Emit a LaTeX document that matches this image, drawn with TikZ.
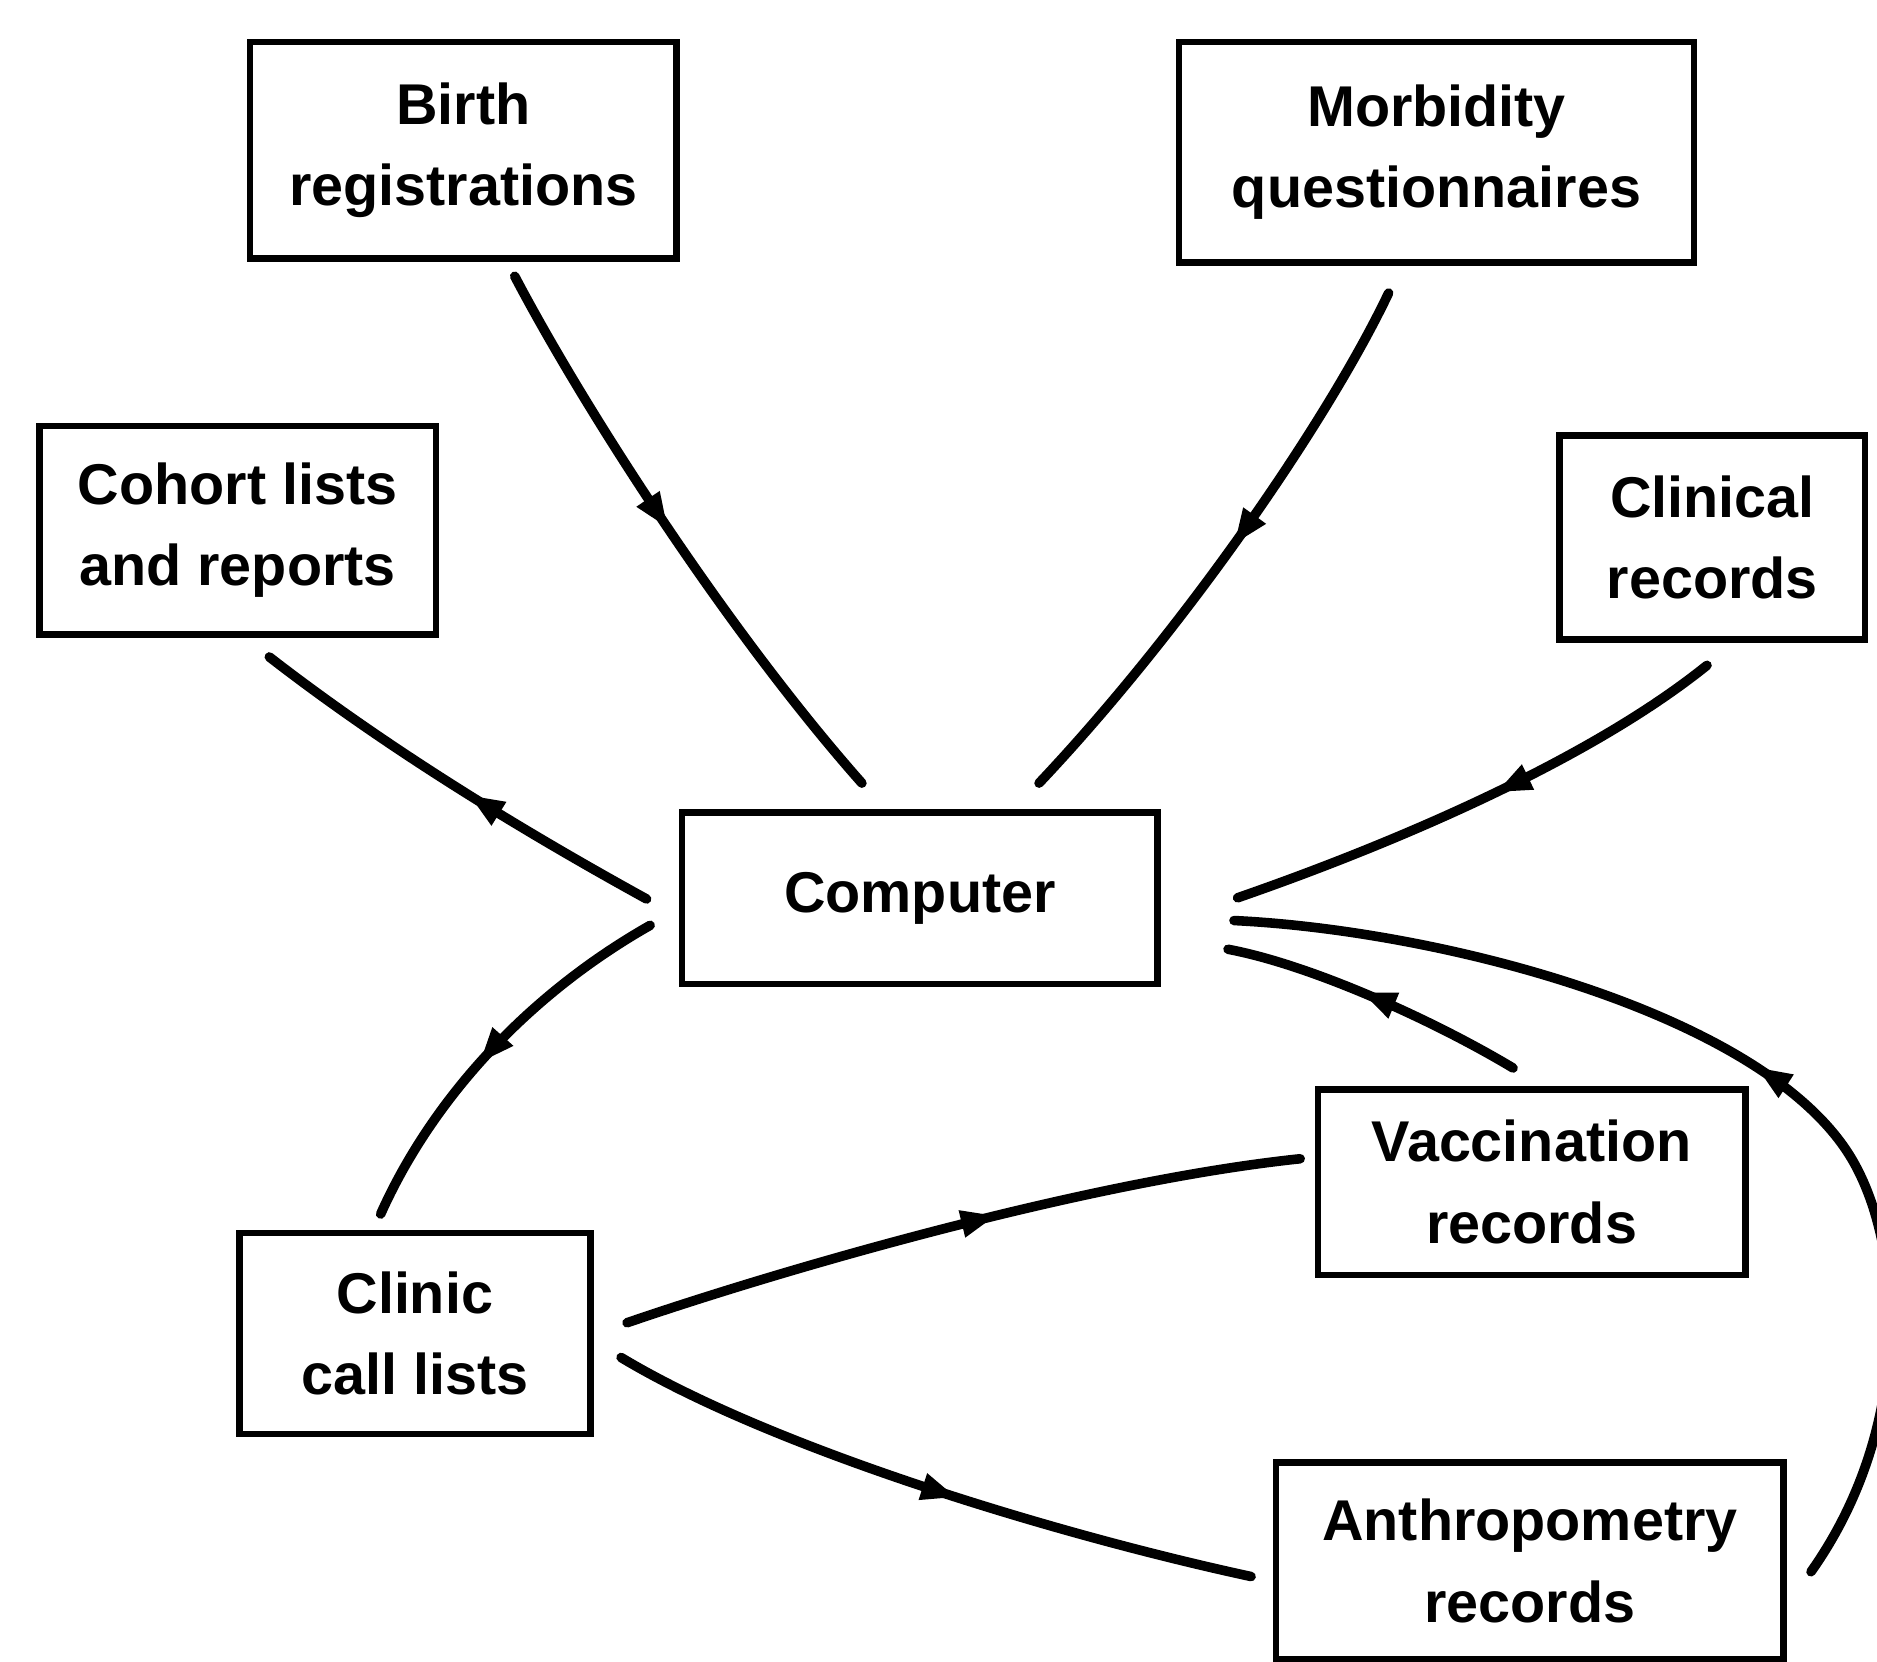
\documentclass[tikz,border=0pt]{standalone}
\usepackage{fontspec}
\setmainfont{Liberation Sans}
\usetikzlibrary{arrows.meta,decorations.markings,calc}
\begin{document}
\begin{tikzpicture}[x=0.01cm,y=-0.01cm,
  box/.style={draw, line width=0.055cm, rectangle, align=center, inner sep=0pt,
    font=\fontsize{13.66pt}{19.35pt}\selectfont\bfseries},
  conn/.style={line width=0.08cm, line cap=round},
  midarrow/.style={postaction={decorate}, decoration={markings,
    mark=at position #1 with {\arrow{Triangle[length=0.3cm,width=0.21cm]}}}}]
\fill[white] (0,0) rectangle (1568,1388);
\useasboundingbox (0,0) rectangle (1568,1388);
\begin{scope}
\clip (0,0) rectangle (1568,1388);
% boxes
\node[box, minimum width=3.56cm, minimum height=1.81cm] (birth) at (387,125.5) {Birth\\registrations};
\node[box, minimum width=4.30cm, minimum height=1.84cm] (morb) at (1200,127) {Morbidity\\questionnaires};
\node[box, minimum width=3.31cm, minimum height=1.74cm] (cohort) at (198.5,443) {Cohort lists\\and reports};
\node[box, minimum width=2.55cm, minimum height=1.70cm] (clinical) at (1430.5,449) {Clinical\\records};
\node[box, minimum width=3.97cm, minimum height=1.43cm] (computer) at (768.5,750.5) {Computer};
\node[box, minimum width=2.93cm, minimum height=1.68cm] (clinic) at (346.5,1114) {Clinic\\call lists};
\node[box, minimum width=3.57cm, minimum height=1.55cm] (vacc) at (1279.5,987.5) {Vaccination\\records};
\node[box, minimum width=4.24cm, minimum height=1.64cm] (anthro) at (1278,1304) {Anthropometry\\records};
% connectors
\draw[conn, midarrow=0.48] ($(birth.south)+(43,12)$) .. controls (490,345) and (610,530) .. ($(computer.north)+(-48.5,-22)$);
\draw[conn, midarrow=0.49] ($(morb.south)+(-40,23)$) .. controls (1110,350) and (990,525) .. ($(computer.north)+(99.5,-22)$);
\draw[conn, midarrow=0.46] ($(computer.west)+(-27,0.5)$) .. controls (433,692) and (322,624) .. ($(cohort.south)+(26.5,16)$);
\draw[conn, midarrow=0.47] ($(clinical.south)+(-4.5,19)$) .. controls (1324,638) and (1155,708) .. ($(computer.east)+(64,-0.5)$);
\draw[conn, midarrow=0.55] ($(computer.west)+(-24,22.5)$) .. controls (441,831) and (361,918) .. ($(clinic.north)+(-28.5,-13)$);
\draw[conn, midarrow=0.55] ($(vacc.north)+(-15.5,-15)$) .. controls (1197,852) and (1095,806) .. ($(computer.east)+(56,42.5)$);
\draw[conn, midarrow=0.51] ($(anthro.east)+(20,9)$) .. controls (1600,1190) and (1590,1037) .. (1545,965) .. controls (1470,845) and (1200,777) .. ($(computer.east)+(61,18.5)$);
\draw[conn, midarrow=0.555] ($(clinic.east)+(28,-9)$) .. controls (664,1057) and (914,986) .. ($(vacc.west)+(-12,-19.5)$);
\draw[conn, midarrow=0.545] ($(clinic.east)+(23,20)$) .. controls (645,1210) and (883,1282) .. ($(anthro.west)+(-18,13)$);
\end{scope}
\end{tikzpicture}
\end{document}
